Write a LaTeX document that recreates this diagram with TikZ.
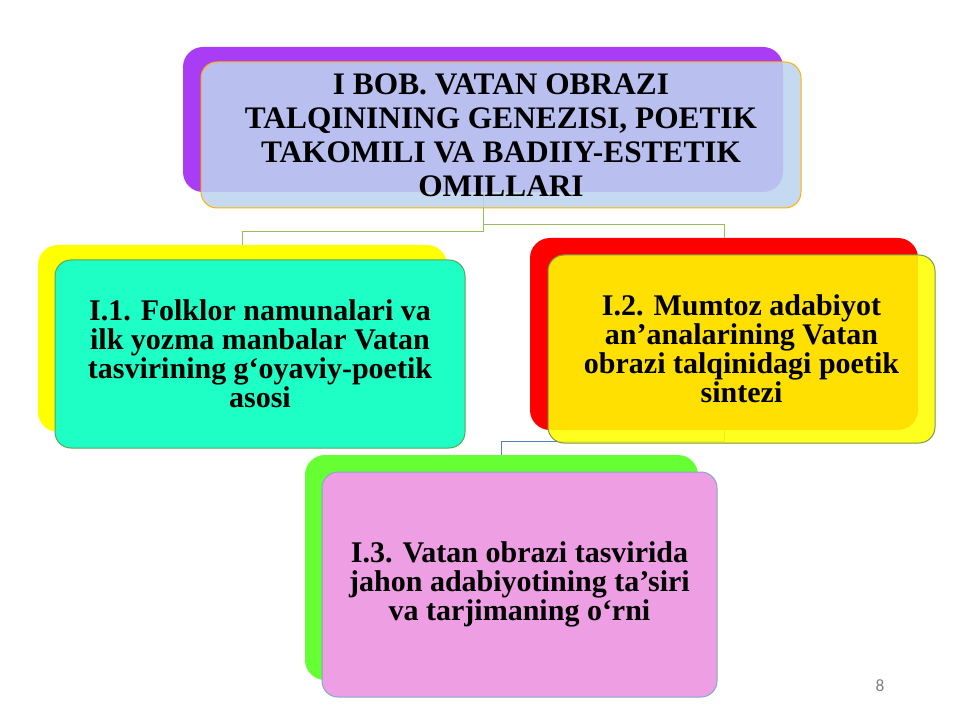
\documentclass[tikz,border=0pt]{standalone}
\usepackage{fontspec}
\setmainfont{Liberation Serif}
\newfontfamily\numfont{Carlito}
\usepackage{tikz}
\usetikzlibrary{positioning,calc}

\definecolor{purpleB}{HTML}{A83DF5}
\definecolor{blueF}{HTML}{BCD3EF}
\definecolor{yellowB}{HTML}{FFFF00}
\definecolor{tealF}{HTML}{1EFFC5}
\definecolor{redB}{HTML}{FF0000}
\definecolor{yellowF}{HTML}{FFFF00}
\definecolor{greenB}{HTML}{66FF33}
\definecolor{pinkF}{HTML}{EE9EE3}
\definecolor{linkG}{HTML}{9BBB59}
\definecolor{linkB}{HTML}{4F81BD}
\lineskiplimit=-20pt

\begin{document}
\begin{tikzpicture}[x=0.75pt,y=-0.75pt,
	back/.style={rounded corners=15pt,inner sep=0pt},
	front/.style={rounded corners=12pt,draw,line width=0.75pt,align=center,
		font=\bfseries\fontsize{22.5}{21.75}\selectfont},
	link/.style={line width=0.75pt}]
		\useasboundingbox (0,0) rectangle (960,720);
		% back boxes
		\node[back,fill=purpleB,minimum width=450pt,minimum height=108.75pt] (topb) at (483,119.5) {};
		\node[back,fill=yellowB,minimum width=306.75pt,minimum height=140.25pt] (leftb) at (242.5,338.5) {};
		\node[back,fill=redB,minimum width=291pt,minimum height=144pt] (rightb) at (724,334) {};
		\node[back,fill=greenB,minimum width=294.75pt,minimum height=168.75pt] (botb) at (501.5,567.5) {};
		% connectors
		\draw[link,linkG] (topb.south) -- ++(0,39) -| (leftb.north);
		\draw[link,linkG] (topb.south) -- ++(0,32) -| (rightb.north);
		\draw[link,linkB] (rightb.south) -- ++(0,11) -| (botb.north);
		% front boxes
		\node[front,fill=blueF,fill opacity=0.87,text opacity=1,draw=orange!60!yellow,
			minimum width=450pt,minimum height=109.5pt,
			font=\bfseries\fontsize{23.5}{25.5}\selectfont] (topf) at (501,135)
			{I BOB. VATAN OBRAZI\\TALQININING GENEZISI, POETIK\\TAKOMILI VA BADIIY-ESTETIK\\OMILLARI};
		\node[front,fill=tealF,draw=gray!70!green,
			minimum width=307.5pt,minimum height=141pt] (leftf) at (260,354)
			{I.1. Folklor namunalari va\\ilk yozma manbalar Vatan\\tasvirining g‘oyaviy-poetik\\asosi};
		\node[front,fill=yellowF,fill opacity=0.88,text opacity=1,draw=linkG!80!black,
			minimum width=290.25pt,minimum height=141pt] (rightf) at (741.5,349)
			{I.2. Mumtoz adabiyot\\an’analarining Vatan\\obrazi talqinidagi poetik\\sintezi};
		\node[front,fill=pinkF,draw=linkB!70,
			minimum width=296.25pt,minimum height=168.75pt] (botf) at (519.5,584.5)
			{I.3. Vatan obrazi tasvirida\\jahon adabiyotining ta’siri\\va tarjimaning o‘rni};
		\node[text=gray,font=\numfont\fontsize{13}{15}\selectfont] (num) at (880,686) {8};
	\end{tikzpicture}
\end{document}
